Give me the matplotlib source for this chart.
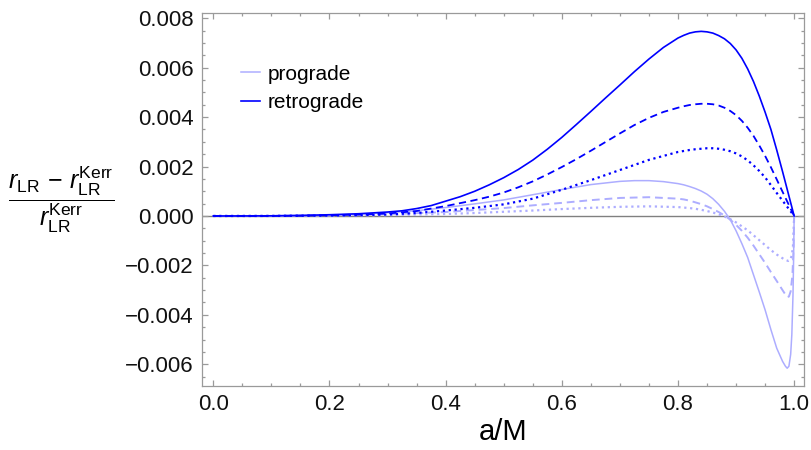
import numpy as np
import matplotlib
matplotlib.use("Agg")
import matplotlib.pyplot as plt
from matplotlib.ticker import MultipleLocator

plt.rcParams.update({
    'font.family': 'Liberation Sans',
    'mathtext.fontset': 'custom',
    'mathtext.rm': 'Liberation Sans',
    'mathtext.it': 'Liberation Sans:italic',
})

# values, in units of 1e-3
a_rs = [0.0, 0.05, 0.1, 0.15, 0.2, 0.25, 0.3, 0.325, 0.35, 0.375, 0.4, 0.425, 0.45, 0.475,
        0.5, 0.525, 0.55, 0.575, 0.6, 0.625, 0.65, 0.675, 0.7, 0.725, 0.75, 0.775, 0.8,
        0.81, 0.82, 0.83, 0.84, 0.85, 0.86, 0.87, 0.88, 0.89, 0.9, 0.91, 0.92, 0.93, 0.94,
        0.95, 0.96, 0.97, 0.98, 0.99, 1.0]
retro_solid = [0.0, 0.001, 0.006, 0.02, 0.05, 0.09, 0.16, 0.21, 0.30, 0.42, 0.60, 0.78, 1.00, 1.26,
               1.55, 1.88, 2.26, 2.70, 3.18, 3.70, 4.23, 4.77, 5.30, 5.84, 6.35, 6.82, 7.20,
               7.31, 7.40, 7.45, 7.47, 7.45, 7.40, 7.30, 7.17, 6.98, 6.72, 6.38, 5.95, 5.44, 4.85,
               4.20, 3.50, 2.67, 1.80, 0.90, 0.0]

a_rd = [0.0, 0.05, 0.1, 0.15, 0.2, 0.25, 0.3, 0.35, 0.4, 0.45, 0.475, 0.5, 0.525, 0.55, 0.575,
        0.6, 0.625, 0.65, 0.675, 0.7, 0.725, 0.75, 0.775, 0.8, 0.81, 0.82, 0.83, 0.84, 0.85,
        0.86, 0.87, 0.88, 0.89, 0.9, 0.91, 0.92, 0.93, 0.94, 0.95, 0.96, 0.97, 0.98, 0.99, 1.0]
retro_dashed = [0.0, 0.0, 0.003, 0.012, 0.03, 0.055, 0.10, 0.20, 0.40, 0.64, 0.78, 0.95, 1.16,
                1.40, 1.68, 1.98, 2.30, 2.64, 2.99, 3.34, 3.68, 3.97, 4.21, 4.38, 4.44, 4.49,
                4.52, 4.54, 4.54, 4.52, 4.47, 4.38, 4.25, 4.08, 3.85, 3.57, 3.24, 2.85, 2.43,
                1.97, 1.48, 0.98, 0.49, 0.0]

a_rt = [0.0, 0.05, 0.1, 0.15, 0.2, 0.25, 0.3, 0.35, 0.4, 0.45, 0.5, 0.55, 0.6, 0.65, 0.7,
        0.75, 0.8, 0.81, 0.82, 0.83, 0.84, 0.85, 0.86, 0.87, 0.88, 0.89, 0.9, 0.91, 0.92,
        0.93, 0.94, 0.95, 0.96, 0.97, 0.98, 0.99, 1.0]
retro_dotted = [0.0, 0.0, 0.002, 0.008, 0.015, 0.03, 0.06, 0.12, 0.22, 0.33, 0.47, 0.70, 1.06,
                1.45, 1.86, 2.27, 2.59, 2.63, 2.67, 2.70, 2.72, 2.74, 2.74, 2.72, 2.68, 2.62,
                2.53, 2.41, 2.25, 2.05, 1.82, 1.56, 1.25, 0.93, 0.62, 0.31, 0.0]

a_ps = [0.0, 0.1, 0.2, 0.25, 0.3, 0.35, 0.4, 0.45, 0.5, 0.55, 0.6, 0.65, 0.7, 0.725, 0.75,
        0.775, 0.8, 0.81, 0.82, 0.83, 0.84, 0.85, 0.86, 0.87, 0.88, 0.89, 0.9, 0.91, 0.92,
        0.93, 0.94, 0.95, 0.96, 0.97, 0.98, 0.985, 0.988, 0.991, 0.994, 0.996, 0.998, 0.999, 1.0]
pro_solid = [0.0, 0.005, 0.035, 0.07, 0.13, 0.21, 0.34, 0.49, 0.65, 0.86, 1.07, 1.27, 1.40, 1.43,
             1.43, 1.39, 1.31, 1.26, 1.19, 1.11, 1.01, 0.88, 0.70, 0.47, 0.19, -0.15, -0.60,
             -1.12, -1.68, -2.38, -3.08, -3.80, -4.60, -5.35, -5.88, -6.08, -6.16, -6.08, -5.60,
             -4.80, -3.20, -1.80, 0.0]

a_pd = [0.0, 0.1, 0.2, 0.3, 0.4, 0.45, 0.5, 0.55, 0.6, 0.65, 0.7, 0.75, 0.8, 0.81, 0.82, 0.83,
        0.84, 0.85, 0.86, 0.87, 0.88, 0.89, 0.9, 0.91, 0.92, 0.93, 0.94, 0.95, 0.96, 0.97,
        0.98, 0.985, 0.988, 0.991, 0.994, 0.997, 0.999, 1.0]
pro_dashed = [0.0, 0.003, 0.02, 0.07, 0.16, 0.24, 0.32, 0.43, 0.53, 0.64, 0.73, 0.76, 0.70, 0.67,
              0.62, 0.55, 0.48, 0.39, 0.28, 0.16, 0.02, -0.15, -0.36, -0.60, -0.88, -1.20, -1.55,
              -1.90, -2.27, -2.63, -3.00, -3.18, -3.28, -3.26, -3.05, -2.40, -1.30, 0.0]

a_pt = [0.0, 0.1, 0.2, 0.3, 0.4, 0.45, 0.5, 0.55, 0.6, 0.65, 0.7, 0.75, 0.8, 0.81, 0.82, 0.83,
        0.84, 0.85, 0.86, 0.87, 0.88, 0.89, 0.9, 0.91, 0.92, 0.93, 0.94, 0.95, 0.96, 0.97,
        0.98, 0.985, 0.99, 0.993, 0.996, 0.998, 1.0]
pro_dotted = [0.0, 0.001, 0.01, 0.035, 0.08, 0.12, 0.17, 0.22, 0.28, 0.33, 0.37, 0.39, 0.36, 0.34,
              0.32, 0.29, 0.25, 0.20, 0.14, 0.07, -0.02, -0.13, -0.26, -0.42, -0.58, -0.78,
              -0.98, -1.18, -1.38, -1.56, -1.71, -1.78, -1.82, -1.78, -1.60, -1.20, 0.0]

yticks = [-0.006, -0.004, -0.002, 0.0, 0.002, 0.004, 0.006, 0.008]
ytick_labels = ["\u22120.006", "\u22120.004", "\u22120.002", "0.000", "0.002", "0.004", "0.006", "0.008"]
xticks = [0.0, 0.2, 0.4, 0.6, 0.8, 1.0]
xtick_labels = ["0.0", "0.2", "0.4", "0.6", "0.8", "1.0"]

dark = '#0000ff'
light = '#adadff'
frame = '#9a9a9a'

fig = plt.figure(figsize=(8.11, 4.5), dpi=100)
ax = fig.add_axes([0.2487, 0.1422, 0.7427, 0.8282])

ax.axhline(0, color='#808080', lw=1.0, zorder=1)

s = 1e-3
ax.plot(a_ps, np.array(pro_solid) * s, color=light, lw=1.1, label='prograde', zorder=2)
ax.plot(a_pd, np.array(pro_dashed) * s, color=light, lw=1.4, dashes=(4, 2.5), zorder=2)
ax.plot(a_pt, np.array(pro_dotted) * s, color=light, lw=1.6, linestyle=':', zorder=2)
ax.plot(a_rs, np.array(retro_solid) * s, color=dark, lw=1.2, label='retrograde', zorder=3)
ax.plot(a_rd, np.array(retro_dashed) * s, color=dark, lw=1.3, dashes=(4, 2.5), zorder=3)
ax.plot(a_rt, np.array(retro_dotted) * s, color=dark, lw=1.6, linestyle=':', zorder=3)

ax.set_xlim(-0.02, 1.017)
ax.set_ylim(-0.00688, 0.0082)
ax.set_xticks(xticks)
ax.set_xticklabels(xtick_labels)
ax.set_yticks(yticks)
ax.set_yticklabels(ytick_labels)
ax.xaxis.set_minor_locator(MultipleLocator(0.05))
ax.yaxis.set_minor_locator(MultipleLocator(0.0005))
ax.tick_params(which='both', direction='in', top=True, right=True, color=frame, width=0.9,
               labelsize=16, labelcolor='#111111', pad=6)
ax.tick_params(which='major', length=4.5)
ax.tick_params(which='minor', length=2.5)
for sp in ax.spines.values():
    sp.set_color(frame)
    sp.set_linewidth(0.9)

ax.set_xlabel('a/M', fontsize=21, labelpad=2)
fig.text(61 / 811, 1 - 200 / 450,
         r'$\dfrac{r_{\mathrm{LR}}\,-\,r_{\mathrm{LR}}^{\mathrm{Kerr}}}{r_{\mathrm{LR}}^{\mathrm{Kerr}}}$',
         fontsize=18, ha='center', va='center')

ax.legend(loc='upper left', bbox_to_anchor=(0.065, 0.862), frameon=False, fontsize=15,
          handlelength=0.9, handletextpad=0.4, labelspacing=0.45, borderaxespad=0, borderpad=0)

fig.savefig('out.png', dpi=100)
